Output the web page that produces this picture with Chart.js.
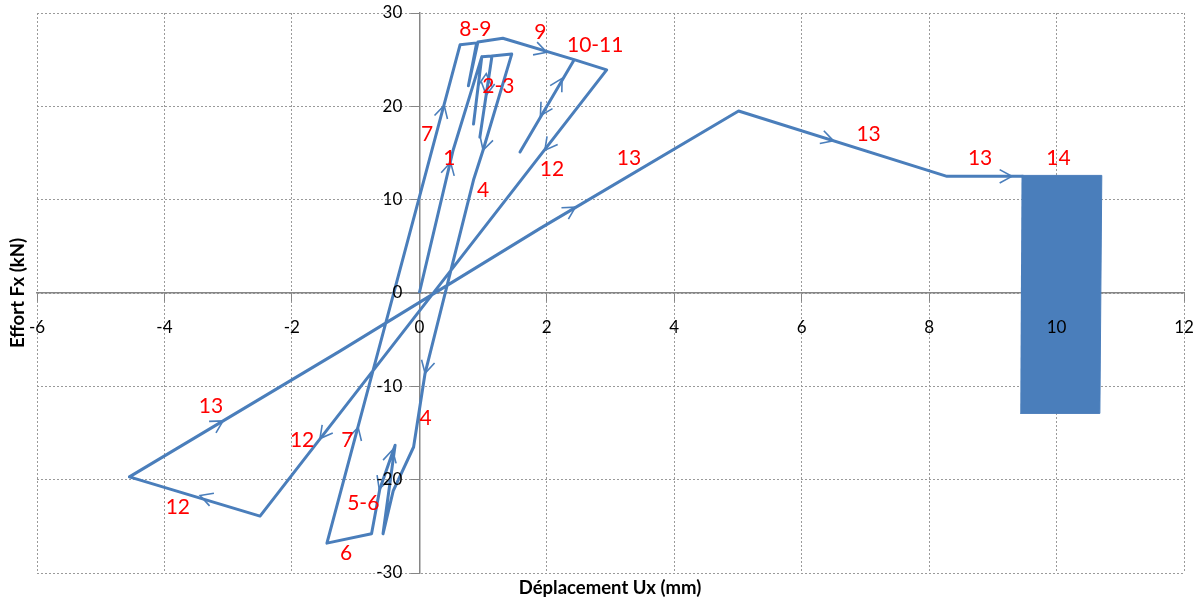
<!DOCTYPE html>
<html>
<head>
<meta charset="utf-8">
<script src="https://cdn.jsdelivr.net/npm/chart.js@4"></script>
<style>
  html, body { margin: 0; padding: 0; background: #fff; }
  #wrap { width: 1199px; height: 601px; }
</style>
</head>
<body>
<div id="wrap"><canvas id="cycleChart" width="1199" height="601"></canvas></div>
<script>
// path of the test (displacement in mm, force in kN), in loading order
const dispPath = [0, 0.53, 0.98, 0.85, 0.98, 1.14, 0.95, 1.14, 1.45,
  1.0, 0.85, 0.09, -0.09, -0.41, -0.57, -0.38, -0.62, -0.75, -1.45,
  0.64, 0.9, 0.77, 0.92, 1.31, 2.43, 1.58, 2.43, 2.94,
  -2.5, -4.55, -1.24, 1.89, 5.01, 8.28, 9.48];
const forcePath = [0, 15.3, 25.3, 18.1, 25.3, 25.4, 16.7, 25.4, 25.6,
  15.3, 12.1, -8.6, -16.5, -21.2, -25.8, -16.3, -21.0, -25.8, -26.8,
  26.6, 26.8, 22.2, 26.9, 27.3, 25.0, 15.1, 25.0, 23.9,
  -23.9, -19.7, -6.2, 6.9, 19.5, 12.5, 12.5];

// cycle 14: dense oscillations, seen as a filled block
const block14X = [9.45, 10.71, 10.68, 9.43];
const block14Y = [12.6, 12.6, -12.9, -12.9];

// cycle numbers written on the curve
const cycleNames = ['8-9', '9', '10-11', '2-3', '7', '1', '12', '13', '4', '13', '13', '14',
  '13', '12', '7', '4', '5-6', '12', '6'];
const cycleNameX = [0.88, 1.9, 2.76, 1.24, 0.12, 0.47, 2.08, 3.29, 1.0, 7.05, 8.8, 10.03,
  -3.27, -1.84, -1.13, 0.1, -0.88, -3.79, -1.15];
const cycleNameY = [28.3, 27.9, 26.5, 22.1, 17.0, 14.4, 13.3, 14.4, 11.0, 17.0, 14.4, 14.4,
  -12.1, -15.8, -15.8, -13.4, -22.5, -23.0, -27.9];

// direction arrows: tip point and a point behind it on the same branch
const arrowTipX = [0.49, 0.39, -0.96, 1.05, 1.05, 1.0, 0.09, -0.42, -0.63, 2.0, 2.24, 1.9,
  1.97, -1.56, -3.44, -3.08, 2.45, 6.5, 9.3];
const arrowTipY = [14.0, 20.1, -14.4, 23.5, 21.2, 15.3, -8.6, -16.8, -21.0, 25.8, 23.0, 19.0,
  15.3, -15.6, -21.7, -13.7, 9.2, 16.3, 12.5];
const arrowFromX = [0, -1.45, -1.45, 0.95, 1.14, 1.45, 0.85, -0.75, -0.38, 1.31, 1.58, 2.43,
  2.94, 2.94, -2.5, -4.55, 1.89, 5.01, 8.28];
const arrowFromY = [0, -26.8, -26.8, 16.7, 25.4, 25.6, 12.1, -25.8, -16.3, 27.3, 15.1, 25.0,
  23.9, 23.9, -23.9, -19.7, 6.9, 19.5, 12.5];

const xTicks = { min: -6, max: 12, step: 2 };
const yTicks = { min: -30, max: 30, step: 10 };

const blue = '#4A7EBB';
const font = 'Lato, "Open Sans", sans-serif';

const annotate = {
  id: 'annotate',
  afterDatasetsDraw(chart) {
    const ctx = chart.ctx;
    const sx = chart.scales.x, sy = chart.scales.y;
    ctx.save();
    // arrows
    ctx.strokeStyle = blue;
    ctx.lineWidth = 1.6;
    for (let i = 0; i < arrowTipX.length; i++) {
      const tx = sx.getPixelForValue(arrowTipX[i]);
      const ty = sy.getPixelForValue(arrowTipY[i]);
      const fx = sx.getPixelForValue(arrowFromX[i]);
      const fy = sy.getPixelForValue(arrowFromY[i]);
      const a = Math.atan2(ty - fy, tx - fx);
      const len = 14, spread = 0.5;
      ctx.beginPath();
      ctx.moveTo(tx - len * Math.cos(a - spread), ty - len * Math.sin(a - spread));
      ctx.lineTo(tx, ty);
      ctx.lineTo(tx - len * Math.cos(a + spread), ty - len * Math.sin(a + spread));
      ctx.stroke();
    }
    // cycle numbers
    ctx.fillStyle = '#FF0000';
    ctx.font = '21px ' + font;
    ctx.textAlign = 'center';
    ctx.textBaseline = 'middle';
    cycleNames.forEach((t, i) => {
      ctx.fillText(t, sx.getPixelForValue(cycleNameX[i]), sy.getPixelForValue(cycleNameY[i]));
    });
    ctx.restore();
  },
  afterDraw(chart) {
    const ctx = chart.ctx;
    ctx.save();
    ctx.fillStyle = '#000';
    ctx.font = 'bold 18.5px ' + font;
    ctx.textAlign = 'center';
    ctx.textBaseline = 'middle';
    ctx.fillText('Déplacement Ux (mm)', 610, 588);
    ctx.translate(18, 293);
    ctx.rotate(-Math.PI / 2);
    ctx.fillText('Effort Fx (kN)', 0, 0);
    ctx.restore();
  }
};

// axes sit on the zero lines: they take no room of their own
function flatX(s) { s.height = 0; s.paddingLeft = 0; s.paddingRight = 0; s.paddingTop = 0; s.paddingBottom = 0; }
function flatY(s) { s.width = 0; s.paddingLeft = 0; s.paddingRight = 0; s.paddingTop = 0; s.paddingBottom = 0; }

new Chart(document.getElementById('cycleChart'), {
  type: 'scatter',
  data: {
    datasets: [{
      label: 'Cycles 1-13',
      data: dispPath.map((x, i) => ({ x: x, y: forcePath[i] })),
      showLine: true,
      borderColor: blue,
      borderWidth: 3,
      pointRadius: 0,
      tension: 0,
      borderJoinStyle: 'round'
    }, {
      label: 'Cycle 14',
      data: block14X.map((x, i) => ({ x: x, y: block14Y[i] })),
      showLine: true,
      borderColor: blue,
      backgroundColor: blue,
      borderWidth: 1,
      pointRadius: 0,
      fill: 'shape'
    }]
  },
  options: {
    responsive: false,
    animation: false,
    layout: { padding: { left: 37, right: 15, top: 13, bottom: 28 } },
    plugins: {
      legend: { display: false },
      tooltip: { enabled: false }
    },
    scales: {
      x: {
        type: 'linear',
        position: { y: 0 },
        min: xTicks.min,
        max: xTicks.max,
        afterFit: flatX,
        ticks: { stepSize: xTicks.step, color: '#000', font: { family: font, size: 17 }, padding: 16, z: 1 },
        grid: { color: '#9a9a9a', tickLength: 8, tickColor: '#868686', tickBorderDash: [] },
        border: { color: '#868686', width: 1.5, dash: [2, 2] }
      },
      y: {
        type: 'linear',
        position: { x: 0 },
        min: yTicks.min,
        max: yTicks.max,
        afterFit: flatY,
        ticks: {
          stepSize: yTicks.step, color: '#000', font: { family: font, size: 17 }, z: 1,
          // labels are right-aligned on the axis itself, so keep a gap
          callback: v => v + '\u2002\u2002'
        },
        grid: { color: '#9a9a9a', tickLength: 8, tickColor: '#868686', tickBorderDash: [] },
        border: { color: '#868686', width: 1.5, dash: [2, 2] }
      }
    }
  },
  plugins: [annotate]
});
</script>
</body>
</html>
